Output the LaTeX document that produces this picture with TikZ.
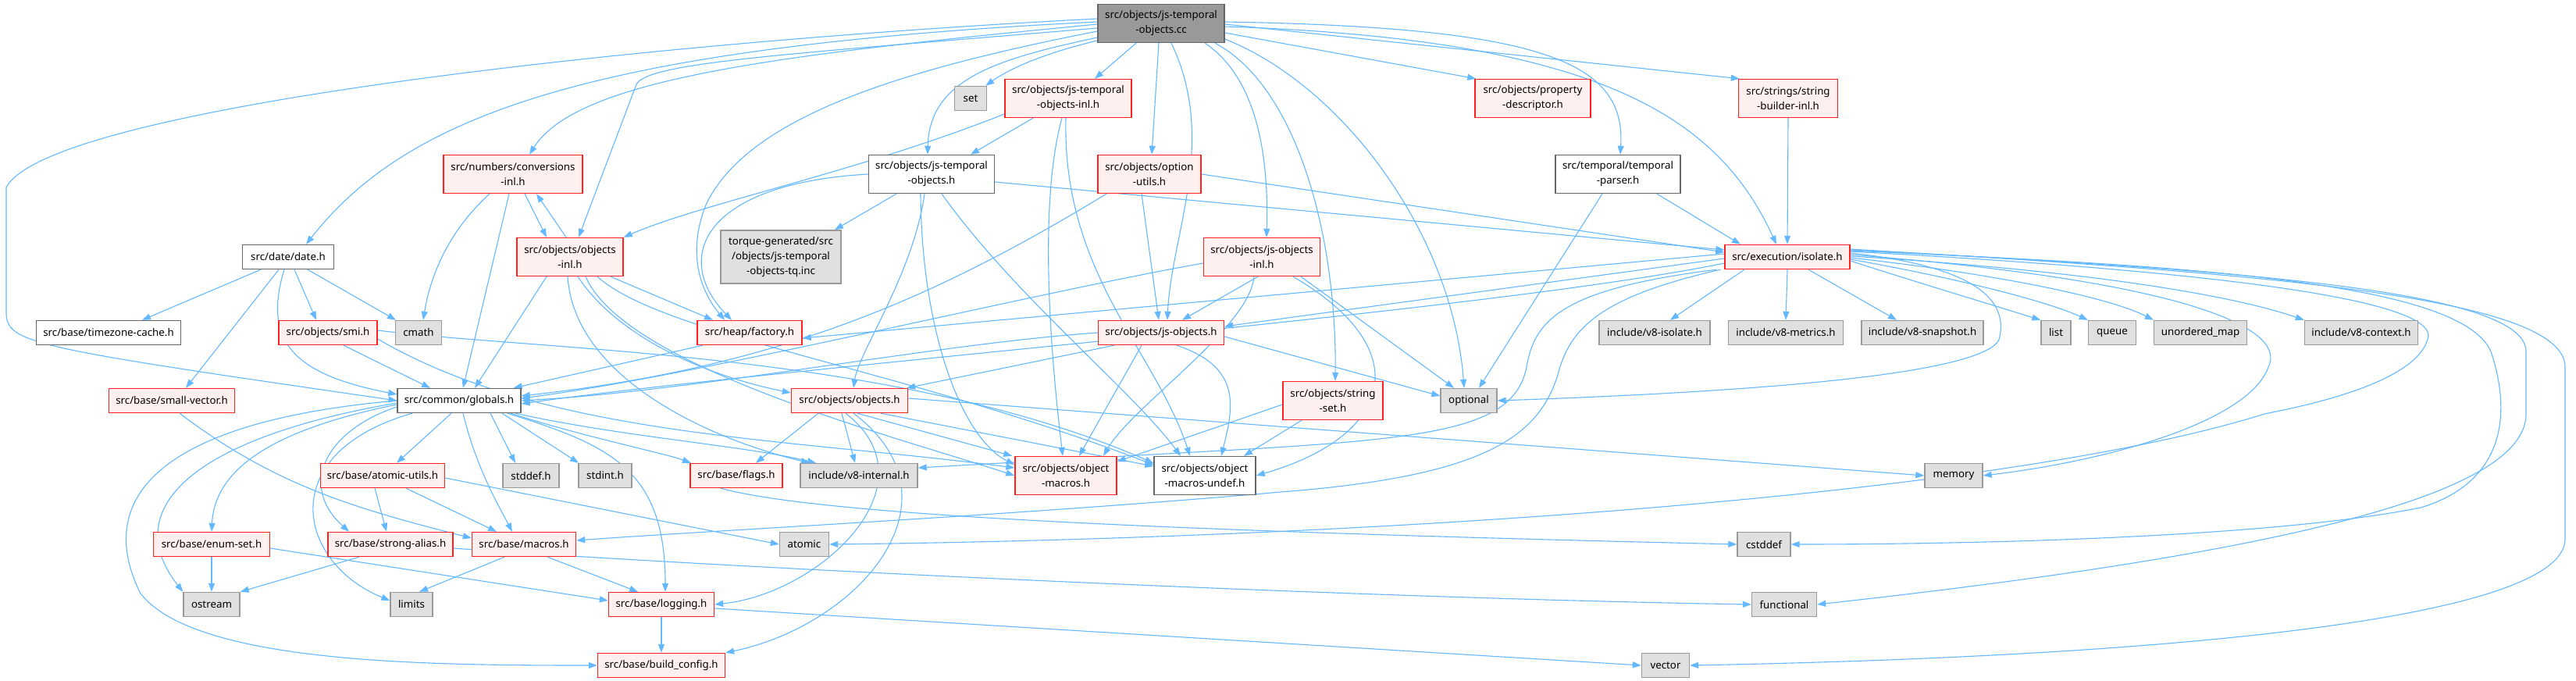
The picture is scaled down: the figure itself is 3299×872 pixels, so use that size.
\documentclass[tikz,border=0pt]{standalone}
\usepackage{fontspec}
\setmainfont{Noto Sans}
\usetikzlibrary{arrows.meta}
\definecolor{eb}{HTML}{63B8FF}
\definecolor{rb}{HTML}{FF2020}
\definecolor{rf}{HTML}{FFF0F0}
\definecolor{gf}{HTML}{E0E0E0}
\definecolor{gb}{HTML}{999999}
\definecolor{db}{HTML}{666666}
\newcommand\nodefont{\fontsize{13.3}{19}\selectfont}
\pgfdeclarelayer{back}
\pgfdeclarelayer{edges}
\pgfsetlayers{back,edges,main}
\tikzset{
 nd/.style={draw, rectangle, inner sep=0pt, align=center, font=\nodefont, line width=1.4pt, minimum height=31pt},
 two/.style={minimum height=49pt},
 rd/.style={nd, draw=rb, fill=rf},
 gr/.style={nd, draw=gb, fill=gf},
 wh/.style={nd, draw=db, fill=white},
 rt/.style={nd, draw=db, fill=gb},
 e/.style={draw=eb, line width=1.1pt, -{Triangle[length=11pt,width=8pt]}},
}
\begin{document}
\begin{tikzpicture}[x=1pt,y=-1pt]
\begin{pgfonlayer}{back}
\fill[white] (0,0) rectangle (3299,872);
\end{pgfonlayer}
\useasboundingbox (0,0) rectangle (3299,872);
% ---------- nodes ----------
\node[rt,two,minimum width=162pt] (cc) at (1487,30) {src/objects/js-temporal\\-objects.cc};
\node[gr,minimum width=41pt] (set) at (1243,126) {set};
\node[rd,two,minimum width=162pt] (jtoinl) at (1368,126) {src/objects/js-temporal\\-objects-inl.h};
\node[rd,two,minimum width=148pt] (prop) at (1963,126) {src/objects/property\\-descriptor.h};
\node[rd,two,minimum width=127pt] (sbinl) at (2290,126) {src/strings/string\\-builder-inl.h};
\node[rd,two,minimum width=178pt] (conv) at (657,223) {src/numbers/conversions\\-inl.h};
\node[wh,two,minimum width=161pt] (jto) at (1193,223) {src/objects/js-temporal\\-objects.h};
\node[rd,two,minimum width=132pt] (optu) at (1472,223) {src/objects/option\\-utils.h};
\node[wh,two,minimum width=160pt] (tparser) at (2072,223) {src/temporal/temporal\\-parser.h};
\node[rd,two,minimum width=136pt] (objinl) at (730,329) {src/objects/objects\\-inl.h};
\node[wh,minimum width=117pt] (date) at (369,329) {src/date/date.h};
\node[gr,minimum width=154pt,minimum height=68pt] (torque) at (1000,329) {torque-generated/src\\/objects/js-temporal\\-objects-tq.inc};
\node[rd,two,minimum width=149pt] (jsoinl) at (1616,329) {src/objects/js-objects\\-inl.h};
\node[rd,minimum width=160pt] (isolate) at (2289,329) {src/execution/isolate.h};
\node[wh,minimum width=185pt] (tzc) at (139,426) {src/base/timezone-cache.h};
\node[rd,minimum width=126pt] (smi) at (420,426) {src/objects/smi.h};
\node[gr,minimum width=59pt] (cmath) at (536,426) {cmath};
\node[rd,minimum width=134pt] (factory) at (960,426) {src/heap/factory.h};
\node[rd,minimum width=161pt] (jso) at (1487,426) {src/objects/js-objects.h};
\node[gr,minimum width=142pt] (v8iso) at (2119,426) {include/v8-isolate.h};
\node[gr,minimum width=147pt] (v8met) at (2287,426) {include/v8-metrics.h};
\node[gr,minimum width=156pt] (v8snap) at (2462,426) {include/v8-snapshot.h};
\node[gr,minimum width=38pt] (list) at (2633,426) {list};
\node[gr,minimum width=61pt] (queue) at (2705,426) {queue};
\node[gr,minimum width=119pt] (umap) at (2818,426) {unordered\_map};
\node[gr,minimum width=145pt] (v8ctx) at (3024,426) {include/v8-context.h};
\node[rd,minimum width=161pt] (smallvec) at (220,513) {src/base/small-vector.h};
\node[wh,minimum width=158pt] (globals) at (588,513) {src/common/globals.h};
\node[rd,minimum width=149pt] (objects) at (1088,513) {src/objects/objects.h};
\node[rd,two,minimum width=128pt] (strset) at (1707,513) {src/objects/string\\-set.h};
\node[gr,minimum width=72pt] (optional) at (1881,513) {optional};
\node[rd,minimum width=159pt] (atomicu) at (490,609) {src/base/atomic-utils.h};
\node[gr,minimum width=72pt] (stddef) at (680,609) {stddef.h};
\node[gr,minimum width=68pt] (stdint) at (775,609) {stdint.h};
\node[rd,minimum width=118pt] (flags) at (943,609) {src/base/flags.h};
\node[gr,minimum width=150pt] (v8int) at (1100,609) {include/v8-internal.h};
\node[rd,two,minimum width=130pt] (omacros) at (1365,609) {src/objects/object\\-macros.h};
\node[wh,two,minimum width=130pt] (oundef) at (1543,609) {src/objects/object\\-macros-undef.h};
\node[gr,minimum width=74pt] (memory) at (2502,609) {memory};
\node[rd,minimum width=149pt] (enumset) at (271,697) {src/base/enum-set.h};
\node[rd,minimum width=160pt] (stralias) at (500,697) {src/base/strong-alias.h};
\node[rd,minimum width=133pt] (macros) at (671,697) {src/base/macros.h};
\node[gr,minimum width=63pt] (atomic) at (1030,697) {atomic};
\node[gr,minimum width=68pt] (cstddef) at (2259,697) {cstddef};
\node[gr,minimum width=72pt] (ostream) at (271,774) {ostream};
\node[gr,minimum width=54pt] (limits) at (527,774) {limits};
\node[rd,minimum width=135pt] (logging) at (847,774) {src/base/logging.h};
\node[gr,minimum width=83pt] (functional) at (2285,774) {functional};
\node[rd,minimum width=163pt] (bconfig) at (847,852) {src/base/build\_config.h};
\node[gr,minimum width=61pt] (vector) at (2133,852) {vector};
\begin{pgfonlayer}{edges}
% ---------- edges: root ----------
\draw[e] ([yshift=6]cc.west) .. controls (800,55) and (60,140) .. (8,240) -- (8,400) .. controls (8,440) and (40,445) .. (globals.west);
\draw[e] ([yshift=2]cc.west) .. controls (750,60) and (520,150) .. ([xshift=23]date.north);
\draw[e] ([yshift=-1]cc.west) .. controls (1000,70) and (740,100) .. ([xshift=21]conv.north);
\draw[e] ([yshift=-6]cc.west) .. controls (1000,70) and (830,80) .. (815,108) -- ([xshift=11]objinl.north);
\draw[e] ([yshift=-10]cc.west) .. controls (1150,90) and (960,150) .. (905,260) .. controls (880,320) and (895,370) .. ([xshift=-32]factory.north);
\draw[e] ([yshift=-18]cc.west) .. controls (1280,75) and (1190,100) .. ([xshift=-5]jto.north);
\draw[e] ([yshift=-22]cc.west) .. controls (1330,70) and (1290,90) .. ([xshift=-2]set.north east);
\draw[e] ([xshift=-32]cc.south) -- ([xshift=34]jtoinl.north);
\draw[e] ([xshift=-3]cc.south) -- ([xshift=3]optu.north);
\draw[e] ([xshift=13]cc.south) .. controls (1560,180) and (1500,300) .. ([xshift=8]jso.north);
\draw[e] ([xshift=56]cc.south) .. controls (1610,100) and (1625,200) .. ([xshift=6]jsoinl.north);
\draw[e] ([xshift=69]cc.south) .. controls (1660,110) and (1712,300) .. ([xshift=3]strset.north);
\draw[e] ([yshift=-20]cc.east) .. controls (1720,110) and (1860,300) .. ([xshift=-6]optional.north);
\draw[e] ([yshift=-12]cc.east) -- ([xshift=2]prop.north west);
\draw[e] ([yshift=2]cc.east) .. controls (1980,35) and (2082,80) .. ([xshift=3]tparser.north);
\draw[e] ([yshift=-4]cc.east) .. controls (2050,50) and (2200,150) .. ([xshift=-14]isolate.north);
\draw[e] ([yshift=-1]cc.east) -- ([xshift=2]sbinl.north west);
% ---------- js-temporal-objects-inl.h ----------
\draw[e] ([yshift=-20]jtoinl.west) .. controls (1100,220) and (900,260) .. (objinl.north east);
\draw[e] ([xshift=-45]jtoinl.south) -- ([xshift=50]jto.north);
\draw[e] ([xshift=-8]jtoinl.south) .. controls (1330,260) and (1345,450) .. ([xshift=-4]omacros.north);
\draw[e] ([xshift=-3]jtoinl.south) .. controls (1360,350) and (1480,450) .. ([xshift=-19]oundef.north);
% ---------- js-temporal-objects.h ----------
\draw[e] (jto.west) .. controls (900,235) and (860,330) .. ([xshift=-23]factory.north);
\draw[e] ([xshift=-45]jto.south) -- ([xshift=69]torque.north);
\draw[e] ([xshift=-9]jto.south) .. controls (1170,350) and (1100,450) .. ([xshift=5]objects.north);
\draw[e] ([xshift=-14]jto.south) .. controls (1180,420) and (1230,560) .. ([yshift=14]omacros.west);
\draw[e] ([xshift=13]jto.south) .. controls (1300,380) and (1450,500) .. ([xshift=-31]oundef.north);
\draw[e] ([yshift=-10]jto.east) -- ([yshift=9]isolate.west);
% ---------- option-utils.h ----------
\draw[e] ([xshift=-55]optu.south) .. controls (1200,380) and (1000,470) .. ([yshift=6]globals.east);
\draw[e] ([xshift=-10]optu.south) -- ([xshift=-3]jso.north);
\draw[e] (optu.east) -- ([yshift=6]isolate.west);
% ---------- conversions-inl.h / objects-inl.h ----------
\draw[e] ([xshift=15]conv.south) -- ([xshift=-30]objinl.north);
\draw[e] ([xshift=-5]objinl.north) -- ([xshift=30]conv.south);
\draw[e] ([xshift=-30]conv.south) .. controls (570,300) and (550,360) .. ([xshift=6]cmath.north);
\draw[e] ([xshift=-5]conv.south) -- ([xshift=5]globals.north);
\draw[e] ([xshift=-30]objinl.south) -- ([xshift=20]globals.north);
\draw[e] ([xshift=52]objinl.south) -- ([xshift=-47]factory.north);
\draw[e] ([xshift=10]objinl.south) .. controls (790,430) and (900,480) .. ([yshift=10]objects.west);
\draw[e] ([xshift=20]objinl.south) .. controls (800,470) and (1150,560) .. ([yshift=0]omacros.west);
\draw[e] ([xshift=35]objinl.south) .. controls (850,430) and (1150,470) .. ([yshift=14]oundef.west);
\draw[e] ([xshift=-3]objinl.south) .. controls (735,480) and (900,560) .. ([xshift=-63]v8int.north);
% ---------- date.h ----------
\draw[e] ([xshift=-35]date.south) -- ([xshift=43]tzc.north);
\draw[e] ([xshift=-12]date.south) -- ([xshift=18]smallvec.north);
\draw[e] ([xshift=-5]date.south) .. controls (335,440) and (380,480) .. ([yshift=8]globals.west);
\draw[e] ([xshift=8]date.south) -- ([xshift=-15]smi.north);
\draw[e] ([xshift=25]date.south) -- ([xshift=-29]cmath.north);
% ---------- smi.h ----------
\draw[e] ([xshift=20]smi.south) -- ([xshift=-37]globals.north);
\draw[e] ([yshift=-8]smi.east) .. controls (700,560) and (1000,560) .. ([yshift=10]omacros.west);
\draw[e] ([yshift=3]smi.east) .. controls (700,450) and (1150,450) .. ([yshift=16]oundef.west);
% ---------- small-vector.h / factory.h ----------
\draw[e] ([xshift=10]smallvec.south) .. controls (350,620) and (450,650) .. ([yshift=8]macros.west);
\draw[e] ([xshift=-60]factory.south) -- ([xshift=-10]globals.north east);
% ---------- js-objects-inl.h ----------
\draw[e] ([yshift=-8]jsoinl.west) .. controls (1300,380) and (900,480) .. ([yshift=3]globals.east);
\draw[e] ([xshift=-5]jsoinl.south) -- ([xshift=27]jso.north);
\draw[e] ([xshift=-10]jsoinl.south) .. controls (1600,420) and (1450,520) .. ([xshift=48]omacros.north);
\draw[e] ([xshift=40]jsoinl.south) .. controls (1820,450) and (1780,560) .. (oundef.east);
\draw[e] ([xshift=50]jsoinl.south) -- ([xshift=-19]optional.north);
% ---------- js-objects.h ----------
\draw[e] (jso.west) .. controls (1200,440) and (900,500) .. (globals.east);
\draw[e] ([xshift=-60]jso.south) -- ([xshift=-2]objects.north east);
\draw[e] ([xshift=-25]jso.south) -- ([xshift=17]omacros.north);
\draw[e] ([xshift=20]jso.south) .. controls (1590,470) and (1580,520) .. ([xshift=21]oundef.north);
\draw[e] ([yshift=-5]jso.east) -- ([yshift=6]optional.west);
% ---------- string-set.h ----------
\draw[e] ([yshift=-5]strset.west) -- ([yshift=18]omacros.east);
\draw[e] ([xshift=-40]strset.south) -- ([xshift=50]oundef.north);
% ---------- objects.h ----------
\draw[e] ([xshift=-40]objects.south) -- ([xshift=25]flags.north);
\draw[e] ([xshift=-10]objects.south) -- ([xshift=-5]v8int.north);
\draw[e] ([xshift=10]objects.south) -- ([xshift=-3]omacros.north west);
\draw[e] ([xshift=40]objects.south) -- ([yshift=12]oundef.west);
\draw[e] ([yshift=3]objects.east) -- (memory.west);
\draw[e] ([xshift=-5]objects.south) .. controls (1200,620) and (1050,760) .. (logging.east);
\draw[e] ([xshift=5]objects.south) .. controls (1240,640) and (1100,800) .. (bconfig.north east);
% ---------- temporal-parser.h / string-builder-inl.h ----------
\draw[e] ([xshift=50]tparser.south) -- ([xshift=-60]isolate.north);
\draw[e] ([xshift=-20]tparser.south) -- ([xshift=13]optional.north);
\draw[e] (sbinl.south) -- (isolate.north);
% ---------- isolate.h ----------
\draw[e] ([xshift=-55]isolate.south) -- ([xshift=20]v8iso.north);
\draw[e] (isolate.south) -- (v8met.north);
\draw[e] ([xshift=27]isolate.south) -- ([xshift=-33]v8snap.north);
\draw[e] ([yshift=-5]isolate.east) .. controls (2450,360) and (2550,390) .. (list.north west);
\draw[e] ([yshift=-3]isolate.east) .. controls (2500,355) and (2620,385) .. (queue.north west);
\draw[e] ([yshift=-1]isolate.east) .. controls (2550,350) and (2700,380) .. (umap.north west);
\draw[e] ([yshift=1]isolate.east) .. controls (2650,345) and (2850,375) .. (v8ctx.north west);
\draw[e] ([yshift=3]isolate.east) .. controls (2800,360) and (2930,420) .. (2905,470) .. controls (2880,540) and (2700,590) .. (memory.east);
\draw[e] ([yshift=5]isolate.east) .. controls (2520,340) and (2575,380) .. (2560,435) .. controls (2540,475) and (2300,500) .. (optional.east);
\draw[e] ([yshift=7]isolate.east) .. controls (2800,345) and (3110,380) .. (3110,430) .. controls (3100,490) and (2950,520) .. (2900,530) .. controls (2550,640) and (1700,690) .. (atomic.east);
\draw[e] ([yshift=8]isolate.east) .. controls (2800,340) and (3150,360) .. (3190,450) .. controls (3220,540) and (3200,620) .. (3100,650) .. controls (2900,690) and (2500,697) .. (cstddef.east);
\draw[e] ([yshift=9]isolate.east) .. controls (2850,345) and (3235,370) .. (3235,450) -- (3235,530) .. controls (3235,620) and (3000,700) .. (functional.east);
\draw[e] ([yshift=10]isolate.east) .. controls (2900,350) and (3285,380) .. (3285,470) -- (3285,690) .. controls (3285,790) and (2800,840) .. (vector.east);
\draw[e] ([yshift=4]isolate.west) -- ([yshift=-7]factory.east);
\draw[e] ([yshift=-2]isolate.west) -- ([yshift=8]jso.east);
\draw[e] ([yshift=-8]isolate.west) .. controls (1900,400) and (1000,470) .. ([yshift=-4]globals.east);
\draw[e] ([xshift=-10]isolate.south west) .. controls (2000,370) and (1965,410) .. (1955,470) .. controls (1940,545) and (1850,560) .. (1600,575) -- ([yshift=10]v8int.east);
\draw[e] ([xshift=-5]isolate.south west) .. controls (2050,380) and (2010,420) .. (1995,480) .. controls (1970,560) and (1900,610) .. (1640,630) .. controls (1300,660) and (900,680) .. ([yshift=5]macros.east);
% ---------- globals.h ----------
\draw[e] ([xshift=-10]globals.south) -- ([xshift=18]atomicu.north);
\draw[e] ([xshift=40]globals.south) -- ([xshift=-20]stddef.north);
\draw[e] ([xshift=55]globals.south) -- ([xshift=-34]stdint.north);
\draw[e] ([xshift=5]globals.south) .. controls (610,600) and (640,650) .. ([xshift=-15]macros.north);
\draw[e] ([yshift=-5]globals.west) .. controls (350,550) and (275,600) .. (enumset.north);
\draw[e] ([yshift=-8]globals.west) .. controls (420,550) and (380,620) .. ([xshift=-53]stralias.north);
\draw[e] ([yshift=-3]globals.west) .. controls (250,560) and (150,650) .. (ostream.north west);
\draw[e] ([xshift=-60]globals.south) .. controls (350,580) and (380,720) .. ([yshift=5]limits.west);
\draw[e] ([xshift=62]globals.south) .. controls (780,570) and (852,600) .. ([xshift=5]logging.north);
\draw[e] ([yshift=0]globals.west) .. controls (200,540) and (120,640) .. (180,760) .. controls (250,850) and (550,852) .. (bconfig.west);
\draw[e] ([xshift=66]globals.south) .. controls (750,560) and (850,580) .. ([xshift=-58]flags.north);
\draw[e] ([xshift=72]globals.south) .. controls (800,560) and (950,570) .. ([xshift=-55]v8int.north);
% ---------- base ----------
\draw[e] ([xshift=-10]atomicu.south) -- ([xshift=-5]stralias.north);
\draw[e] ([xshift=30]atomicu.south) -- ([xshift=-35]macros.north);
\draw[e] ([yshift=-3]atomicu.east) -- (atomic.west);
\draw[e] (enumset.south) -- (ostream.north);
\draw[e] ([yshift=-5]enumset.east) -- ([yshift=5]logging.west);
\draw[e] ([xshift=-40]stralias.south) -- (ostream.north east);
\draw[e] ([yshift=-5]stralias.east) .. controls (900,725) and (1700,765) .. (functional.west);
\draw[e] ([xshift=-25]macros.south) -- ([xshift=10]limits.north);
\draw[e] ([xshift=30]macros.south) -- ([xshift=-30]logging.north);
\draw[e] (logging.south) -- (bconfig.north);
\draw[e] ([yshift=-5]logging.east) -- (vector.west);
\draw[e] ([xshift=-20]flags.south) .. controls (1050,660) and (1500,680) .. (cstddef.west);
\end{pgfonlayer}
\end{tikzpicture}
\end{document}
